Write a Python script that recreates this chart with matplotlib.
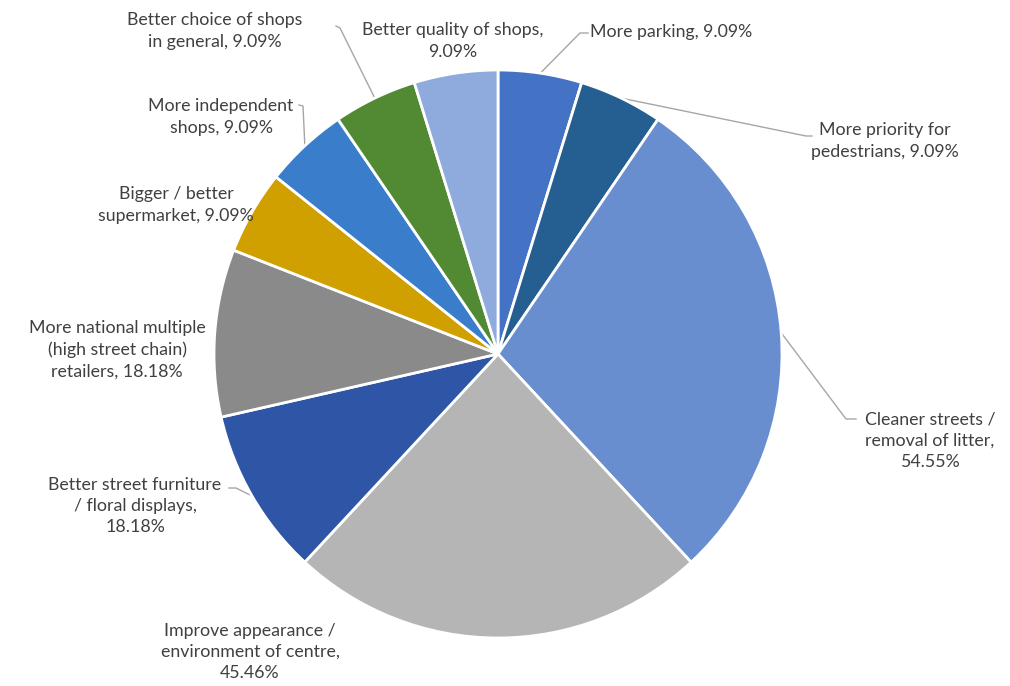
import numpy as np
import matplotlib
matplotlib.use("Agg")
import matplotlib.pyplot as plt

# Survey responses: suggested improvements for the town centre (multi-response, %)
categories = [
    "More parking",
    "More priority for\npedestrians",
    "Cleaner streets /\nremoval of litter,",
    "Improve appearance /\nenvironment of centre,",
    "Better street furniture\n/ floral displays,",
    "More national multiple\n(high street chain)\nretailers,",
    "Bigger / better\nsupermarket,",
    "More independent\nshops,",
    "Better choice of shops\nin general,",
    "Better quality of shops,",
]
values = [9.09, 9.09, 54.55, 45.46, 18.18, 18.18, 9.09, 9.09, 9.09, 9.09]
value_sep = [", ", ", ", "\n", "\n", "\n", " ", " ", " ", " ", "\n"]

colors = ["#4472C4", "#255E91", "#698ED0", "#B5B5B5", "#2E55A6",
          "#8A8A8A", "#D0A000", "#3A7ECB", "#528A33", "#8FAADC"]

W, H = 1010, 686
fig = plt.figure(figsize=(W / 100, H / 100), dpi=100)
ax = fig.add_axes([0, 0, 1, 1])
ax.set_xlim(0, W)
ax.set_ylim(0, H)
ax.set_aspect("equal")
ax.axis("off")

cx, cy, R = 498, H - 354, 284
wedges, _ = ax.pie(values, colors=colors, startangle=90, counterclock=False,
                   center=(cx, cy), radius=R, frame=True,
                   wedgeprops=dict(edgecolor="white", linewidth=2))
ax.set_xlim(0, W)
ax.set_ylim(0, H)
ax.axis("off")

# label placement (pixel coordinates, y measured from top) and leader elbows
label_pos = [
    (590, 32, "left"),
    (885, 141, "center"),
    (930, 441, "center"),
    (250, 652, "center"),
    (135, 506, "center"),
    (117, 350, "center"),
    (176, 205, "center"),
    (221, 117, "center"),
    (215, 31, "center"),
    (453, 41, "center"),
]
elbows = [
    [(580, 33), (588, 33)],
    [(806, 136), (812, 136)],
    [(846, 419), (856, 419)],
    None,
    [(236, 488), (229, 488)],
    None,
    None,
    [(303, 106), (299, 105)],
    [(340, 28), (336, 26)],
    None,
]

text_color = "#404040"
line_color = "#A6A6A6"

for w, cat, val, sep, (tx, ty, ha), elb in zip(wedges, categories, values,
                                                value_sep, label_pos, elbows):
    label = f"{cat}{sep}{val:.2f}%"
    ax.text(tx, H - ty, label, ha=ha, va="center", fontsize=12.8,
            family=["Lato", "DejaVu Sans"], color=text_color,
            linespacing=1.4, multialignment="center")
    if elb is not None:
        mid = np.deg2rad((w.theta1 + w.theta2) / 2)
        ex, ey = cx + R * np.cos(mid), cy + R * np.sin(mid)
        xs = [ex] + [p[0] for p in elb]
        ys = [ey] + [H - p[1] for p in elb]
        ax.plot(xs, ys, color=line_color, linewidth=1, zorder=0.5)

fig.savefig("out.png", dpi=100, facecolor="white")
